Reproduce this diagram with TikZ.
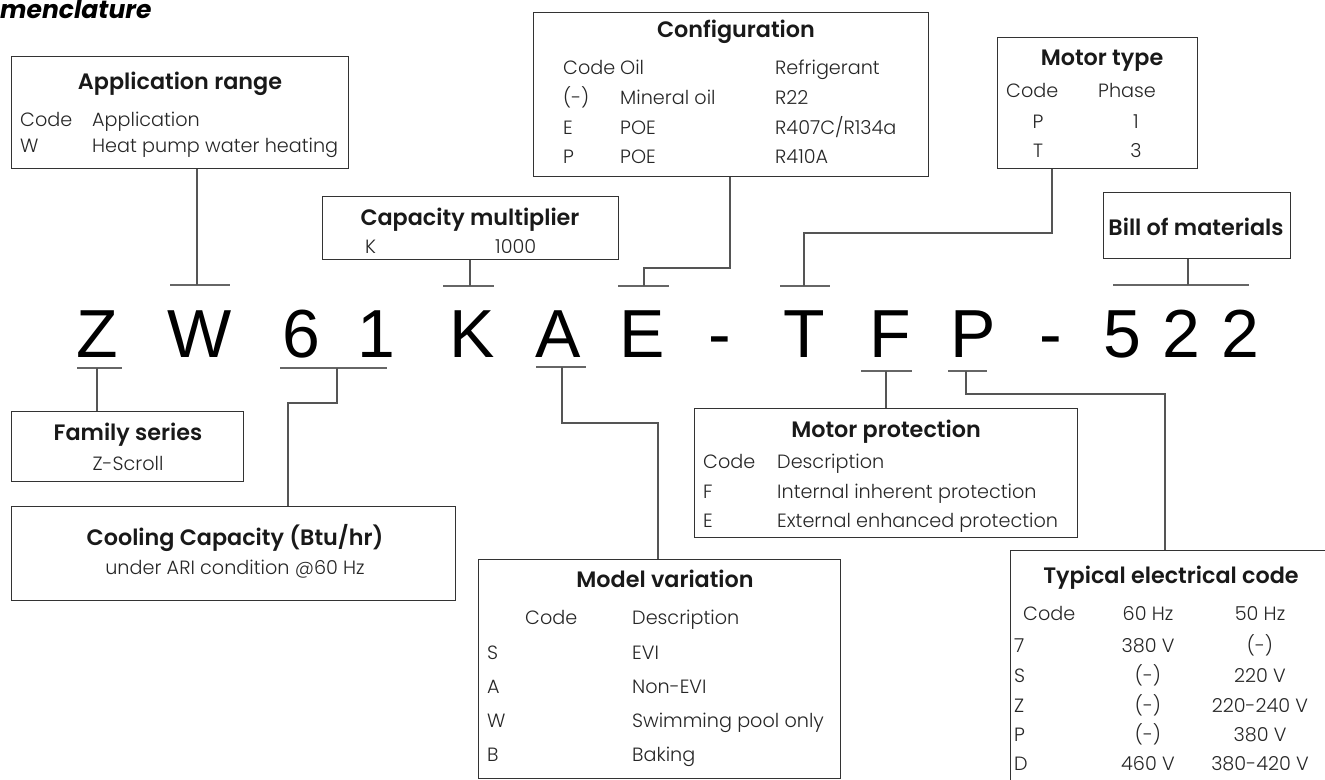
\documentclass[tikz,border=0pt]{standalone}
\usepackage{fontspec}
\setmainfont{Poppins}
\IfFontExistsTF{Poppins Light}{\newfontfamily\bodyf{Poppins Light}}{\newfontfamily\bodyf{Poppins}}
\IfFontExistsTF{Poppins SemiBold}{\newfontfamily\titlef{Poppins SemiBold}}{\newfontfamily\titlef{Poppins}[UprightFont=*Bold]}
\newfontfamily\codef{Liberation Sans}
\definecolor{boxc}{HTML}{333333}
\definecolor{connc}{HTML}{555555}
\definecolor{tickc}{HTML}{666666}
\tikzset{
  box/.style={draw=boxc, line width=1.3pt, inner sep=0pt, anchor=north west},
  ttl/.style={inner sep=0pt, anchor=base, font=\titlef\fontsize{22.3}{22.3}\selectfont, text=black!90},
  bd/.style={inner sep=0pt, anchor=base west, font=\bodyf\fontsize{19.2}{19.2}\selectfont, text=black!85},
  bdc/.style={bd, anchor=base},
  big/.style={inner sep=0pt, anchor=base, font=\codef\fontsize{68}{68}\selectfont},
  conn/.style={draw=connc, line width=1.3pt},
  tick/.style={draw=tickc, line width=1.8pt},
}
\begin{document}
\begin{tikzpicture}[x=1pt,y=-1pt]
\useasboundingbox (0,0) rectangle (1325,779);
% heading
\node[inner sep=0pt, anchor=base west, font=\fontspec{Poppins}\bfseries\itshape\fontsize{25}{25}\selectfont] (head) at (0,18.5) {menclature};

% ---------- code letters ----------
\node[big] (cZ) at (97.5,357) {Z};
\node[big] (cW) at (200,357) {W};
\node[big] (c6) at (301.5,357) {6};
\node[big] (c1) at (376,357) {1};
\node[big] (cK) at (472.5,357) {K};
\node[big] (cA) at (558.5,357) {A};
\node[big] (cE) at (642.5,357) {E};
\node[big] (cd1) at (719.5,357) {-};
\node[big] (cT) at (804,357) {T};
\node[big] (cF) at (890.5,357) {F};
\node[big] (cP) at (973,357) {P};
\node[big] (cd2) at (1050.5,357) {-};
\node[big] (c5) at (1122,357) {5};
\node[big] (c2a) at (1181,357) {2};
\node[big] (c2b) at (1240.5,357) {2};

% ---------- ticks ----------
\coordinate (tW) at (197,285);
\coordinate (tK) at (470,286);
\coordinate (tE) at (644,286);
\coordinate (tT) at (804,286);
\coordinate (tB) at (1188,285);
\coordinate (bZ) at (97,368);
\coordinate (b61) at (337,368);
\coordinate (bA) at (562,367);
\coordinate (bF) at (886,371);
\coordinate (bP) at (966,371);
\draw[tick] (170,285) -- (230,285);
\draw[tick] (443,286) -- (494,286);
\draw[tick] (618,286) -- (669,286);
\draw[tick] (780,286) -- (830,286);
\draw[tick] (1113,285) -- (1249,285);
\draw[tick] (77,368) -- (122,368);
\draw[tick] (280,368) -- (387,368);
\draw[tick] (536,367) -- (586,367);
\draw[tick] (861,371) -- (912,371);
\draw[tick] (948,371) -- (987,371);

% ---------- Application range ----------
\node[box, minimum width=337pt, minimum height=112pt] (app) at (11,56) {};
\node[ttl] (appT) at (180,89) {Application range};
\node[bd] (app1) at (20,126) {Code};
\node[bd] (app2) at (92,126) {Application};
\node[bd] (app3) at (20,152) {W};
\node[bd] (app4) at (92,152) {Heat pump water heating};

% ---------- Capacity multiplier ----------
\node[box, minimum width=296pt, minimum height=63pt] (cap) at (322,196) {};
\node[ttl] (capT) at (470,225) {Capacity multiplier};
\node[bd] (cap1) at (365,253) {K};
\node[bd] (cap2) at (495,253) {1000};

% ---------- Configuration ----------
\node[box, minimum width=395pt, minimum height=164pt] (cfg) at (533,12) {};
\node[ttl] (cfgT) at (736,37) {Configuration};
\node[bd] at (563,74) {Code};
\node[bd] at (620,74) {Oil};
\node[bd] at (775,74) {Refrigerant};
\node[bd] at (563,104) {(-)};
\node[bd] at (620,104) {Mineral oil};
\node[bd] at (775,104) {R22};
\node[bd] at (563,134) {E};
\node[bd] at (620,134) {POE};
\node[bd] at (775,134) {R407C/R134a};
\node[bd] at (563,163) {P};
\node[bd] at (620,163) {POE};
\node[bd] at (775,163) {R410A};

% ---------- Motor type ----------
\node[box, minimum width=200pt, minimum height=131pt] (mt) at (997,37) {};
\node[ttl] (mtT) at (1102,65) {Motor type};
\node[bd] at (1006,97) {Code};
\node[bd] at (1098,97) {Phase};
\node[bdc] at (1038,128) {P};
\node[bdc] at (1136,128) {1};
\node[bdc] at (1038,157) {T};
\node[bdc] at (1136,157) {3};

% ---------- Bill of materials ----------
\node[box, minimum width=187pt, minimum height=66pt] (bom) at (1103,192) {};
\node[ttl] (bomT) at (1196,235) {Bill of materials};

% ---------- Family series ----------
\node[box, minimum width=232pt, minimum height=70pt] (fam) at (11,411) {};
\node[ttl] (famT) at (128,440) {Family series};
\node[bdc] (fam1) at (128,470) {Z-Scroll};

% ---------- Cooling capacity ----------
\node[box, minimum width=444pt, minimum height=94pt] (cool) at (11,506) {};
\node[ttl] (coolT) at (235,545) {Cooling Capacity (Btu/hr)};
\node[bdc] (cool1) at (235,574) {under ARI condition @60 Hz};

% ---------- Motor protection ----------
\node[box, minimum width=383pt, minimum height=129pt] (mp) at (694,408) {};
\node[ttl] (mpT) at (886,437) {Motor protection};
\node[bd] at (703,468) {Code};
\node[bd] at (777,468) {Description};
\node[bd] at (703,498) {F};
\node[bd] at (777,498) {Internal inherent protection};
\node[bd] at (703,527) {E};
\node[bd] at (777,527) {External enhanced protection};

% ---------- Model variation ----------
\node[box, minimum width=362pt, minimum height=219pt] (mv) at (478,559) {};
\node[ttl] (mvT) at (665,587) {Model variation};
\node[bd] at (525,624) {Code};
\node[bd] at (632,624) {Description};
\node[bd] at (487,659) {S};
\node[bd] at (632,659) {EVI};
\node[bd] at (487,693) {A};
\node[bd] at (632,693) {Non-EVI};
\node[bd] at (487,727) {W};
\node[bd] at (632,727) {Swimming pool only};
\node[bd] at (487,761) {B};
\node[bd] at (632,761) {Baking};

% ---------- Typical electrical code ----------
\node[box, minimum width=330pt, minimum height=250pt] (tec) at (1010,550) {};
\node[ttl] (tecT) at (1171,583) {Typical electrical code};
\node[bd] at (1023,620) {Code};
\node[bdc] at (1148,620) {60 Hz};
\node[bdc] at (1260,620) {50 Hz};
\node[bd] at (1014,652) {7};
\node[bdc] at (1148,652) {380 V};
\node[bdc] at (1260,652) {(-)};
\node[bd] at (1014,682) {S};
\node[bdc] at (1148,682) {(-)};
\node[bdc] at (1260,682) {220 V};
\node[bd] at (1014,712) {Z};
\node[bdc] at (1148,712) {(-)};
\node[bdc] at (1260,712) {220-240 V};
\node[bd] at (1014,741) {P};
\node[bdc] at (1148,741) {(-)};
\node[bdc] at (1260,741) {380 V};
\node[bd] at (1014,770) {D};
\node[bdc] at (1148,770) {460 V};
\node[bdc] at (1260,770) {380-420 V};

% ---------- connectors ----------
\draw[conn] (tW) -- (app.south -| tW);
\draw[conn] (tK) -- (cap.south -| tK);
\draw[conn] (tE) |- (730,268) -- (cfg.south -| 730,268);
\draw[conn] (tT) |- (1052,233) -- (mt.south -| 1052,233);
\draw[conn] (tB) -- (bom.south -| tB);
\draw[conn] (bZ) -- (fam.north -| bZ);
\draw[conn] (b61) |- (288,403) -- (cool.north -| 288,403);
\draw[conn] (bA) |- (658,423) -- (mv.north -| 658,423);
\draw[conn] (bF) -- (mp.north -| bF);
\draw[conn] (bP) |- (1165,394) -- (tec.north -| 1165,394);
\end{tikzpicture}
\end{document}
